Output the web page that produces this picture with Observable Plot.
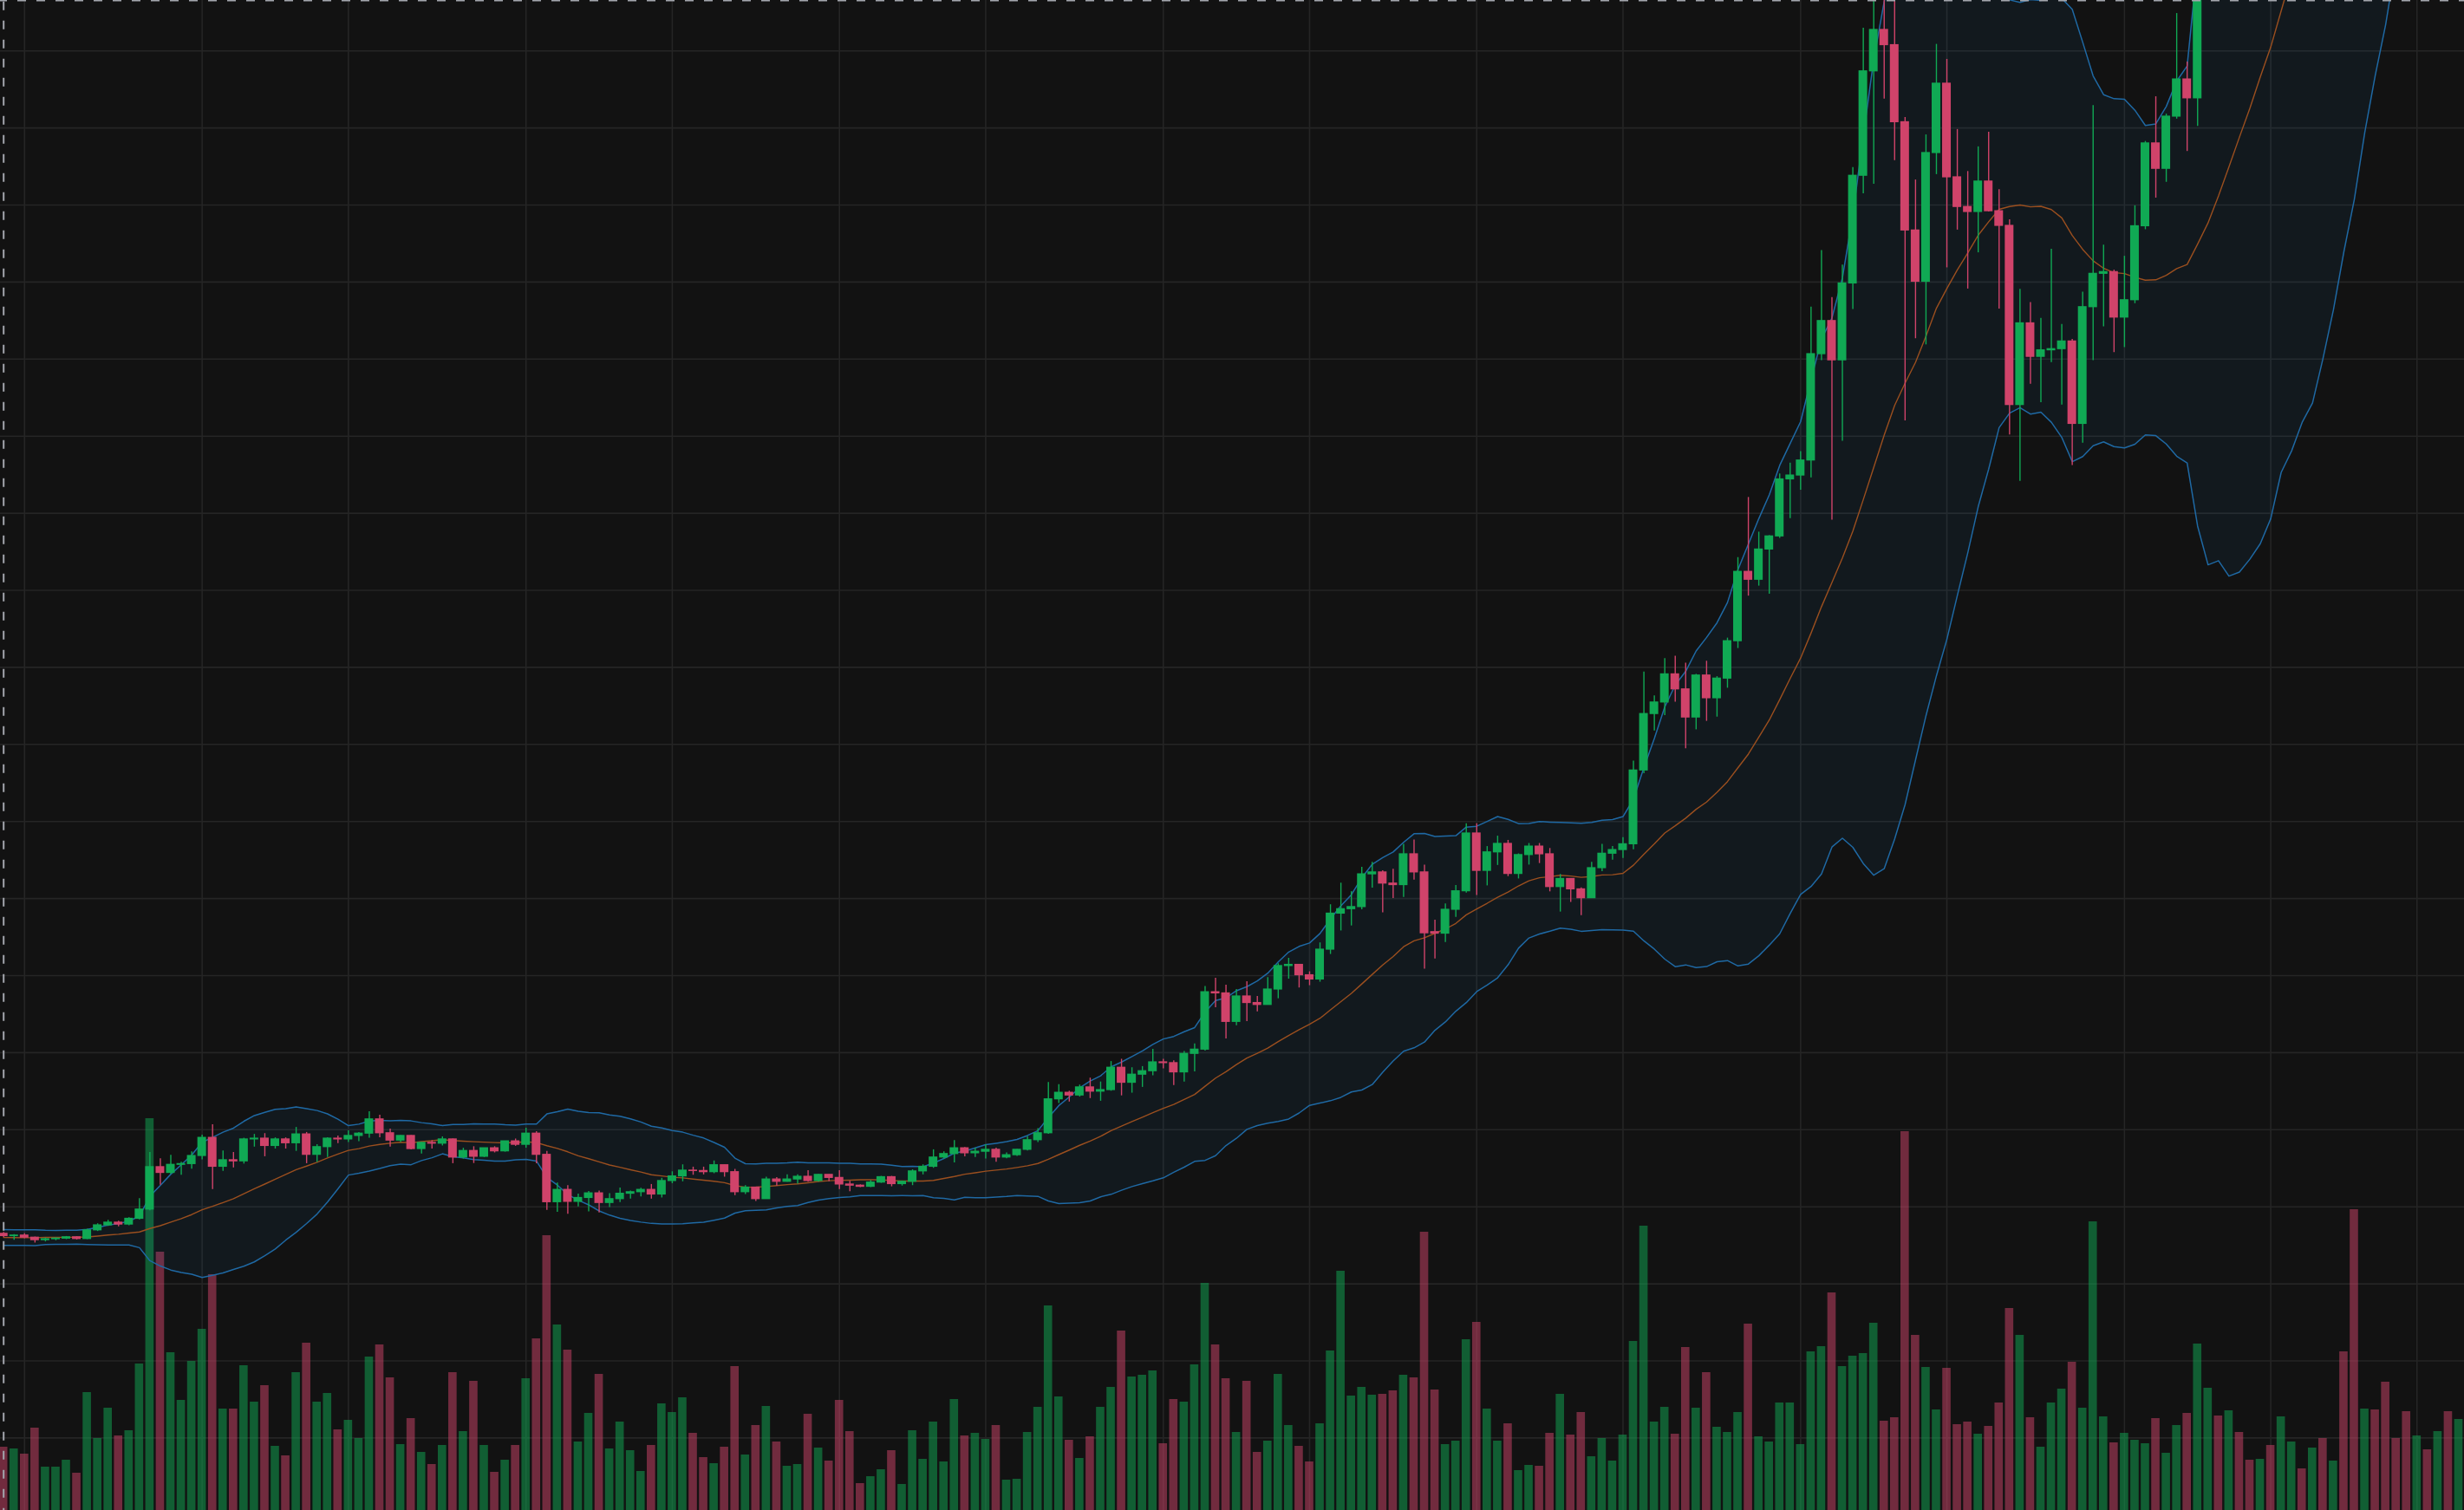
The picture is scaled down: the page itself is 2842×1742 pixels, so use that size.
<!DOCTYPE html>
<html>
<head>
<meta charset="utf-8">
<script src="https://cdn.jsdelivr.net/npm/d3@7"></script>
<script src="https://cdn.jsdelivr.net/npm/@observablehq/plot@0.6"></script>
<style>
  html, body { margin: 0; padding: 0; background: #121212; overflow: hidden; }
  #chart { position: relative; width: 2842px; height: 1742px; background: #121212; }
  #chart svg { position: absolute; left: 0; top: 0; overflow: hidden; }
</style>
</head>
<body>
<div id="chart"></div>
<script>
// ---------------- DATA (daily candles, first candle = startDate) ----------------
const startDate = "2020-07-13";

// closes of the 19 days before the first candle (feed the 20-day Bollinger band)
const warmupClose = [9290,9250,9160,9010,9110,9180,9140,9230,9090,9060,9130,9070,9340,9250,9430,9230,9290,9240,9300];

const open = [
9300,9240,9255,9200,9135,9160,9175,9210,9165,9390,
9520,9590,9540,9690,9930,11030,10880,11090,11110,11320,
11790,11040,11210,11180,11750,11770,11580,11750,11650,11880,
11350,11550,11770,11750,11840,11900,12270,11910,11720,11840,
11500,11660,11640,11750,11280,11450,11300,11520,11440,11700,
11610,11900,11350,10120,10440,10130,10230,10350,10100,10200,
10340,10380,10440,10320,10670,10790,10940,10930,10900,11080,
10900,10380,10500,10200,10710,10650,10710,10780,10670,10830,
10750,10580,10550,10520,10630,10770,10590,10650,10920,11040,
11280,11370,11520,11390,11430,11480,11280,11340,11480,11730,
11910,12790,12960,12890,13100,12990,13030,13610,13220,13430,
13520,13750,13730,13490,13970,14080,15570,15540,14800,15460,
15290,15240,15640,16250,16280,16010,15900,16675,17610,17725,
17780,18630,18680,18390,18350,19150,18680,17130,17090,17710,
18190,19690,18720,19200,19420,18640,19130,19350,19150,18300,
18510,18240,18010,18790,19165,19260,19410,21325,22790,23090,
23820,23430,22700,23790,23200,23710,24680,26480,26275,27060,
27400,28880,28980,29370,32130,32990,31970,33965,36760,39470,
40545,40150,38150,35340,34010,37350,39150,36720,35950,35820,
36610,35840,35460,30810,32930,32060,32230,32260,32460,30320,
33350,34215,34260,33080,33530,35450,37600,36940,38295,39260,
38770,46400,46480,44850,47990,47410,47230,48590,47940,49160,
52120,51560,55890,55840,57410,54090,48890,49680,47060,46280,
46110,45140,49590,48440,50350,48370
];
const high = [
9335,9280,9300,9215,9190,9195,9230,9225,9420,9560,
9650,9630,9720,10210,11410,11250,11340,11160,11430,11860,
12130,11450,11410,11780,11880,11900,11790,11790,12060,11930,
11610,11790,11840,11970,11930,12470,12380,12020,11850,11850,
11670,11720,11815,11760,11520,11560,11520,11560,11700,11760,
12040,11950,11440,10620,10550,10330,10400,10410,10340,10490,
10410,10480,10580,10740,10910,11090,11030,11030,11190,11080,
10970,10550,10500,10770,10760,10830,10830,10940,10840,10830,
10940,10660,10570,10680,10790,10790,10670,10960,11090,11480,
11430,11720,11540,11520,11610,11520,11400,11490,11820,12030,
13225,13170,13000,13160,13340,13240,13770,13830,13610,13640,
14090,13830,13790,14030,14230,15720,15930,15750,15640,15840,
15460,15950,16310,16450,16280,16100,16850,17840,18400,18180,
18810,18940,18720,18760,19410,19520,18870,17440,17860,18340,
19940,19940,19350,19620,19510,19160,19430,19430,19300,18625,
18515,18280,18940,19410,19350,19580,21570,23880,23260,24230,
24290,24110,23820,24160,23760,24760,26850,28410,27510,27420,
29020,29300,29600,33350,34820,33600,34440,36970,40590,41950,
41380,41350,38270,36650,37820,40170,39780,37960,36870,37510,
37890,36400,35620,33810,33470,33060,34850,32900,32510,33740,
38580,34960,34310,34670,35980,37650,38810,38360,40970,39710,
46750,48140,47340,48680,48990,48150,49710,49000,50620,52620,
52530,56370,57580,58350,57530,54210,51370,52040,48400,48400,
46640,49790,50200,52640,51800,49450
];
const low = [
9200,9130,9170,9060,9090,9120,9150,9140,9150,9360,
9490,9480,9510,9660,9900,10560,10840,10820,10980,11220,
10450,10920,11010,11110,11550,11300,11500,11500,11440,11120,
11150,11280,11640,11670,11690,11780,11790,11550,11670,11480,
11370,11500,11580,11120,11240,11125,11280,11400,11420,11570,
11520,11120,9910,9860,9810,10000,9870,9840,9980,10110,
10200,10260,10200,10230,10600,10650,10820,10830,10860,10770,
10290,10320,10140,10200,10540,10640,10590,10640,10640,10650,
10450,10390,10500,10500,10610,10520,10540,10550,10830,11000,
11240,11140,11300,11280,11240,11160,11250,11310,11450,11670,
11880,12680,12720,12850,12810,12740,13000,12880,12950,13100,
13400,13580,13150,13240,13500,14040,15170,14360,14700,14810,
15060,15240,15400,15910,15680,15740,15830,16550,17160,17290,
17710,18270,17630,18000,18030,18480,16170,16430,16860,17510,
18140,18080,18330,18860,18570,18510,18870,18910,18175,17650,
17900,17560,18010,18700,19000,19040,19270,21240,22350,22750,
23100,21890,22380,22600,22710,23460,24490,25850,26110,25900,
27350,27860,28600,28920,31960,27820,29870,33290,36290,36540,
38750,37150,30400,32530,32370,36790,34370,35350,33820,34760,
35820,33300,30030,28830,31350,30870,31910,30810,29240,29820,
31960,32840,32170,32300,33440,35360,36180,36590,38230,37390,
38040,45020,43730,44020,46230,46200,47070,46250,47000,48950,
50900,50700,53860,55480,47620,44890,47020,46690,44100,45000,
43000,44950,47050,48100,47500,46300
];
const close = [
9240,9255,9200,9135,9160,9175,9210,9165,9390,9520,
9590,9540,9690,9930,11030,10880,11090,11110,11320,11790,
11040,11210,11180,11750,11770,11580,11750,11650,11880,11350,
11550,11770,11750,11840,11900,12270,11910,11720,11840,11500,
11660,11640,11750,11280,11450,11300,11520,11440,11700,11610,
11900,11350,10120,10440,10130,10230,10350,10100,10200,10340,
10380,10440,10320,10670,10790,10940,10930,10900,11080,10900,
10380,10500,10200,10710,10650,10710,10780,10670,10830,10750,
10580,10550,10520,10630,10770,10590,10650,10920,11040,11280,
11370,11520,11390,11430,11480,11280,11340,11480,11730,11910,
12790,12960,12890,13100,12990,13030,13610,13220,13430,13520,
13750,13730,13490,13970,14080,15570,15540,14800,15460,15290,
15240,15640,16250,16280,16010,15900,16675,17610,17725,17780,
18630,18680,18390,18350,19150,18680,17100,17090,17710,18190,
19690,18720,19200,19420,18640,19130,19350,19150,18300,18510,
18240,18010,18790,19165,19260,19410,21325,22790,23090,23820,
23430,22700,23790,23200,23710,24680,26480,26275,27060,27400,
28880,28980,29370,32130,32990,31970,33965,36760,39470,40545,
40150,38150,35340,34010,37350,39150,36720,35950,35820,36610,
35840,35460,30810,32930,32060,32230,32260,32460,30320,33350,
34215,34260,33080,33530,35450,37600,36940,38295,39260,38770,
46400,46480,44850,47990,47410,47230,48590,47940,49160,52120,
51560,55890,55840,57410,54090,48890,49680,47060,46280,46110,
45140,49590,48440,50350,48370,48750
];
// volume (relative units)
const volume = [
73,71,65,95,50,50,58,43,136,83,
118,86,92,169,452,298,182,127,172,209,
272,117,117,167,125,144,74,63,159,193,
125,135,93,104,83,177,191,153,76,106,
67,53,75,159,91,149,75,44,58,75,
152,198,317,214,185,79,112,157,71,102,
69,45,75,123,113,130,89,61,54,73,
166,64,98,120,79,51,53,111,72,57,
127,91,31,39,47,69,30,92,59,102,
56,128,86,89,82,98,35,36,90,119,
236,131,81,60,85,119,142,207,154,156,
161,77,128,125,168,262,191,152,90,149,
67,80,157,98,74,56,100,184,276,132,
142,133,134,138,156,153,321,139,76,80,
197,217,117,80,100,46,52,51,89,134,
87,113,62,83,57,87,195,328,102,119,
88,188,118,159,96,90,113,215,85,79,
124,124,76,183,189,251,166,178,181,216,
103,107,437,202,165,116,164,99,102,88,
97,124,233,202,107,73,124,140,171,118,
333,108,78,89,81,77,106,66,98,112,
192,141,109,115,90,58,59,75,108,79,
48,72,83,57,183,347,117,116,148,83,
114,86,70,91,114,105
];

// horizontal price grid levels and vertical time grid dates
const priceGrid = [4000,6000,8000,10000,12000,14000,16000,18000,20000,22000,24000,26000,28000,30000,32000,34000,36000,38000,40000];
const timeGrid = ["2020-07-15","2020-08-01","2020-08-15","2020-09-01","2020-09-15","2020-10-01","2020-10-15",
  "2020-11-01","2020-11-15","2020-12-01","2020-12-15","2021-01-01","2021-01-15","2021-02-01","2021-02-15","2021-03-01"];

// ---------------- BUILD ----------------
const W = 2842, H = 1742;
const DAY = 864e5;
const t0 = Date.parse(startDate + "T00:00:00Z");
const dates = d3.utcDay.range(new Date(t0), new Date(t0 + open.length * DAY));
const candles = dates.map((date, i) => ({
  date, open: open[i], high: high[i], low: low[i], close: close[i], volume: volume[i],
  up: close[i] >= open[i]
}));

// 20-day Bollinger band (2 population std devs) from closes
const allClose = warmupClose.concat(close);
const bands = candles.map((c, i) => {
  const w = allClose.slice(i, i + 20);
  const m = d3.mean(w);
  const sd = Math.sqrt(d3.mean(w, v => (v - m) ** 2));
  return { date: c.date, mid: m, upper: m + 2 * sd, lower: m - 2 * sd };
});

const shift = (d, k) => new Date(+d + k * DAY);
const xScale = { type: "utc", domain: [shift(dates[0], -0.307), shift(dates[0], 235.54)], range: [0, W], axis: null };
const yPrice = { type: "linear", domain: [2119, 41309], range: [H, 0], axis: null };

const GREEN = "#10a954", RED = "#d0436a";
const BAND = "#1f69a4", MID = "#9b4f1f", GRID = "#252525", CROSS = "#a3a6ad";

const base = { width: W, height: H, marginTop: 0, marginRight: 0, marginBottom: 0, marginLeft: 0 };

// layer 1: grid
const gridLayer = Plot.plot({
  ...base, x: xScale, y: yPrice,
  style: { background: "#121212", overflow: "hidden" },
  marks: [
    Plot.ruleY(priceGrid, { y: d => d, stroke: GRID, strokeWidth: 1.6 }),
    Plot.ruleX(timeGrid, { x: d => new Date(d + "T00:00:00Z"), stroke: GRID, strokeWidth: 1.6 })
  ]
});

// layer 2: volume
const volLayer = Plot.plot({
  ...base, x: xScale,
  y: { type: "linear", domain: [0, H], range: [H, 0], axis: null },
  style: { background: "transparent", overflow: "hidden" },
  marks: [
    Plot.rect(candles, { filter: d => d.up, x1: d => shift(d.date, -0.4), x2: d => shift(d.date, 0.4), y1: d => 0, y2: "volume", fill: GREEN, fillOpacity: 0.5 }),
    Plot.rect(candles, { filter: d => !d.up, x1: d => shift(d.date, -0.4), x2: d => shift(d.date, 0.4), y1: d => 0, y2: "volume", fill: RED, fillOpacity: 0.5 })
  ]
});

// layer 3: price
const priceLayer = Plot.plot({
  ...base, x: xScale, y: yPrice,
  style: { background: "transparent", overflow: "hidden" },
  marks: [
    Plot.areaY(bands, { x: "date", y1: "lower", y2: "upper", fill: "#2196f3", fillOpacity: 0.06 }),
    Plot.lineY(bands, { x: "date", y: "upper", stroke: BAND, strokeWidth: 1.5 }),
    Plot.lineY(bands, { x: "date", y: "lower", stroke: BAND, strokeWidth: 1.5 }),
    Plot.lineY(bands, { x: "date", y: "mid", stroke: MID, strokeWidth: 1.4 }),
    Plot.ruleX(candles, { filter: d => d.up, x: "date", y1: "low", y2: "high", stroke: GREEN, strokeWidth: 1.4 }),
    Plot.ruleX(candles, { filter: d => !d.up, x: "date", y1: "low", y2: "high", stroke: RED, strokeWidth: 1.4 }),
    Plot.rect(candles, { filter: d => d.up, x1: d => shift(d.date, -0.415), x2: d => shift(d.date, 0.415),
      y1: d => Math.min(d.open, d.close), y2: d => Math.max(d.open, d.close), fill: GREEN, insetTop: -0.6, insetBottom: -0.6 }),
    Plot.rect(candles, { filter: d => !d.up, x1: d => shift(d.date, -0.415), x2: d => shift(d.date, 0.415),
      y1: d => Math.min(d.open, d.close), y2: d => Math.max(d.open, d.close), fill: RED, insetTop: -0.6, insetBottom: -0.6 }),
    // dashed crosshair: vertical at first candle, horizontal at top of price range
    Plot.ruleX([dates[0]], { x: d => d, stroke: CROSS, strokeWidth: 2, strokeDasharray: "10,12", strokeDashoffset: 20.3 }),
    Plot.ruleY([yPrice.domain[1]], { y: d => d, stroke: CROSS, strokeWidth: 2, strokeDasharray: "10,12", strokeDashoffset: 2 })
  ]
});

const chart = document.getElementById("chart");
chart.append(gridLayer, volLayer, priceLayer);
</script>
</body>
</html>
